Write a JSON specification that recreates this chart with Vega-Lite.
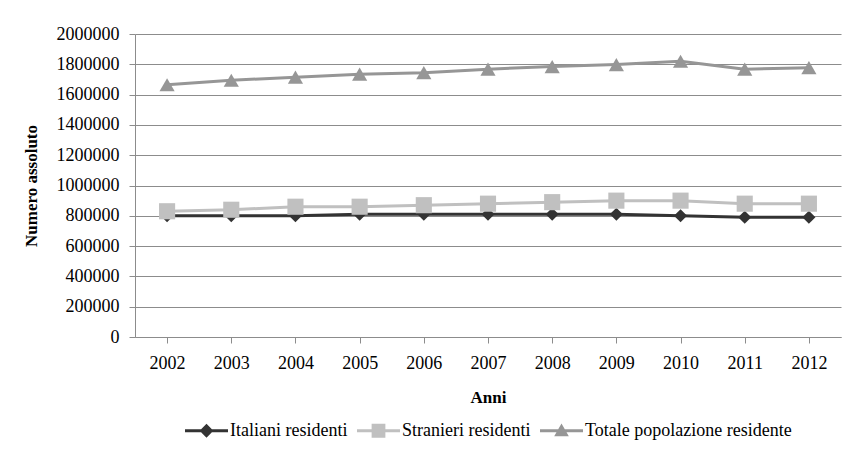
{
  "$schema": "https://vega.github.io/schema/vega-lite/v6.json",
  "width": 706,
  "height": 303,
  "autosize": {"type": "none"},
  "padding": {"left": 135, "top": 34, "right": 8, "bottom": 115},
  "background": "white",
  "config": {
    "font": "Liberation Serif",
    "view": {"stroke": null},
    "axis": {"labelColor": "#000", "titleColor": "#000", "labelFont": "Liberation Serif", "titleFont": "Liberation Serif"}
  },
  "data": {
    "values": [
      {"anno": "2002", "serie": "Italiani residenti", "valore": 800000},
      {"anno": "2003", "serie": "Italiani residenti", "valore": 800000},
      {"anno": "2004", "serie": "Italiani residenti", "valore": 800000},
      {"anno": "2005", "serie": "Italiani residenti", "valore": 810000},
      {"anno": "2006", "serie": "Italiani residenti", "valore": 810000},
      {"anno": "2007", "serie": "Italiani residenti", "valore": 810000},
      {"anno": "2008", "serie": "Italiani residenti", "valore": 810000},
      {"anno": "2009", "serie": "Italiani residenti", "valore": 810000},
      {"anno": "2010", "serie": "Italiani residenti", "valore": 800000},
      {"anno": "2011", "serie": "Italiani residenti", "valore": 790000},
      {"anno": "2012", "serie": "Italiani residenti", "valore": 790000},
      {"anno": "2002", "serie": "Stranieri residenti", "valore": 830000},
      {"anno": "2003", "serie": "Stranieri residenti", "valore": 840000},
      {"anno": "2004", "serie": "Stranieri residenti", "valore": 860000},
      {"anno": "2005", "serie": "Stranieri residenti", "valore": 860000},
      {"anno": "2006", "serie": "Stranieri residenti", "valore": 870000},
      {"anno": "2007", "serie": "Stranieri residenti", "valore": 880000},
      {"anno": "2008", "serie": "Stranieri residenti", "valore": 890000},
      {"anno": "2009", "serie": "Stranieri residenti", "valore": 900000},
      {"anno": "2010", "serie": "Stranieri residenti", "valore": 900000},
      {"anno": "2011", "serie": "Stranieri residenti", "valore": 880000},
      {"anno": "2012", "serie": "Stranieri residenti", "valore": 880000},
      {"anno": "2002", "serie": "Totale popolazione residente", "valore": 1665000},
      {"anno": "2003", "serie": "Totale popolazione residente", "valore": 1695000},
      {"anno": "2004", "serie": "Totale popolazione residente", "valore": 1715000},
      {"anno": "2005", "serie": "Totale popolazione residente", "valore": 1735000},
      {"anno": "2006", "serie": "Totale popolazione residente", "valore": 1745000},
      {"anno": "2007", "serie": "Totale popolazione residente", "valore": 1768000},
      {"anno": "2008", "serie": "Totale popolazione residente", "valore": 1785000},
      {"anno": "2009", "serie": "Totale popolazione residente", "valore": 1798000},
      {"anno": "2010", "serie": "Totale popolazione residente", "valore": 1820000},
      {"anno": "2011", "serie": "Totale popolazione residente", "valore": 1768000},
      {"anno": "2012", "serie": "Totale popolazione residente", "valore": 1778000}
    ]
  },
  "encoding": {
    "x": {
      "field": "anno", "type": "ordinal", "title": "Anni",
      "scale": {"paddingInner": 0, "paddingOuter": 0},
      "axis": {
        "labelAngle": 0, "bandPosition": 0, "grid": false, "labelOverlap": false,
        "domainColor": "#8c8c8c", "tickColor": "#8c8c8c", "tickSize": 6,
        "labelFontSize": 18, "labelPadding": 11, "titleFontSize": 17, "titleFontWeight": "bold", "titlePadding": 17,
        "labelAlign": "center"
      }
    },
    "y": {
      "field": "valore", "type": "quantitative", "title": "Numero assoluto",
      "scale": {"domain": [0, 2000000], "nice": false},
      "axis": {
        "values": [0, 200000, 400000, 600000, 800000, 1000000, 1200000, 1400000, 1600000, 1800000, 2000000],
        "format": "d", "labelOverlap": false, "gridColor": "#8c8c8c", "gridWidth": 1.2, "gridOpacity": 1,
        "domainColor": "#8c8c8c", "tickColor": "#8c8c8c", "tickSize": 6,
        "labelFontSize": 18, "labelPadding": 10, "titleFontSize": 17, "titleFontWeight": "bold", "titlePadding": 16
      }
    },
    "color": {"field": "serie", "type": "nominal",
      "scale": {"domain": ["Italiani residenti", "Stranieri residenti", "Totale popolazione residente"], "range": ["#333333", "#c0c0c0", "#969696"]},
      "legend": {
        "title": null, "orient": "none", "direction": "horizontal", "legendX": 50, "legendY": 375,
        "labelFont": "Liberation Serif",
        "labelFontSize": 18, "labelColor": "#000", "labelLimit": 0, "symbolSize": 1849, "labelOffset": 2, "columnPadding": 9,
        "symbolStrokeWidth": 0, "symbolOpacity": 1,
        "encode": {
          "symbols": {"update": {
            "size": {"value": 1849},
            "strokeWidth": {"value": 0},
            "fill": {"scale": "color", "field": "value"},
            "opacity": {"value": 1},
            "shape": {"signal": "datum.value == 'Italiani residenti' ? 'M-1,-0.075H1V0.075H-1Z M0,-0.32L0.32,0L0,0.32L-0.32,0Z' : datum.value == 'Stranieri residenti' ? 'M-1,-0.075H1V0.075H-1Z M-0.32,-0.32H0.32V0.32H-0.32Z' : 'M-1,-0.075H1V0.075H-1Z M0,-0.34L0.34,0.26L-0.34,0.26Z'"}
          }}
        }
      }
    }
  },
  "layer": [
    {"mark": {"type": "line", "strokeWidth": 3}},
    {
      "transform": [{"filter": "datum.serie == 'Italiani residenti'"}],
      "mark": {"type": "point", "filled": true, "opacity": 1, "size": 170, "shape": "diamond"}
    },
    {
      "transform": [{"filter": "datum.serie == 'Stranieri residenti'"}],
      "mark": {"type": "point", "filled": true, "opacity": 1, "size": 260, "shape": "square"}
    },
    {
      "transform": [{"filter": "datum.serie == 'Totale popolazione residente'"}],
      "mark": {"type": "point", "filled": true, "opacity": 1, "size": 230, "shape": "triangle-up"}
    }
  ]
}
